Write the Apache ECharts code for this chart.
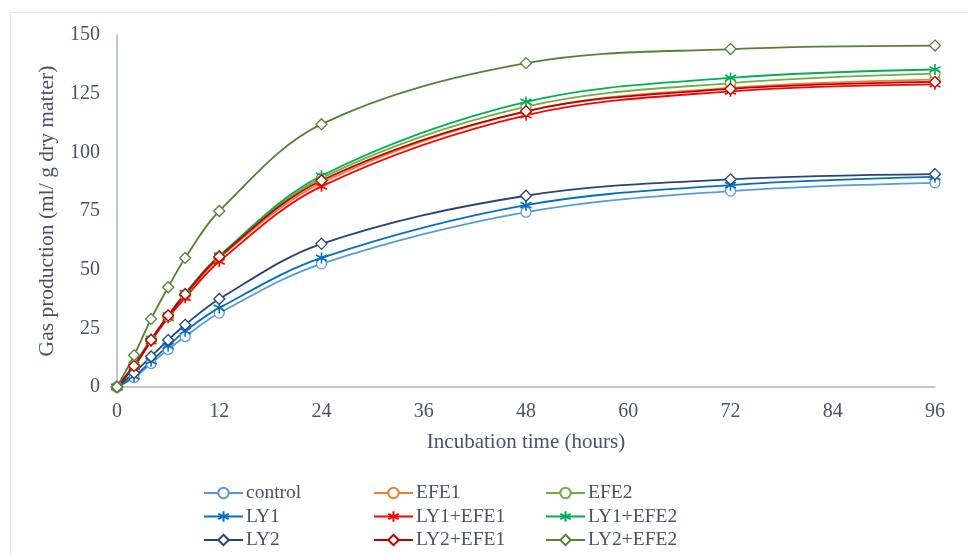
<!DOCTYPE html>
<html>
<head>
<meta charset="utf-8">
<script src="https://cdn.jsdelivr.net/npm/echarts@6/dist/echarts.min.js"></script>
<style>
html,body{margin:0;padding:0;background:#fff;}
#chart{width:968px;height:555px;}
</style>
</head>
<body>
<div id="chart"></div>
<script>
const hours = [0, 2, 4, 6, 8, 12, 24, 48, 72, 96];
const control = [0, 4, 10, 16, 21.5, 31.5, 52.5, 74.5, 83.5, 87];
const EFE1 = [0, 9, 20, 30, 39, 55, 87, 117.5, 127.5, 131];
const EFE2 = [0, 9, 20, 30, 39.5, 55.5, 89, 119.5, 129.5, 133.5];
const LY1 = [0, 4.5, 11, 17.5, 23.8, 33.7, 55, 77.5, 86, 89.5];
const LY1_EFE1 = [0, 8.5, 19.5, 29.5, 38, 53.5, 85.5, 115.8, 126, 129];
const LY1_EFE2 = [0, 9.5, 20.5, 30.5, 40, 56, 90, 121.5, 131.7, 135.3];
const LY2 = [0, 6, 13, 20, 26.5, 37.5, 61, 81.5, 88.5, 90.7];
const LY2_EFE1 = [0, 9, 20, 30.5, 39.5, 55.5, 88, 117.5, 127, 130];
const LY2_EFE2 = [0, 13.5, 29, 42.5, 55, 75, 112, 138, 144, 145.5];

const xTicks = [0, 12, 24, 36, 48, 60, 72, 84, 96];
const yTicks = [0, 25, 50, 75, 100, 125, 150];

const STAR = 'path://M0,-5L0,5M-4.4,-2.6L4.4,2.6M-4.4,2.6L4.4,-2.6';
const FONT = '"Liberation Serif", "Times New Roman", serif';
const TXT = '#44546A';

const defs = [
  {name: 'control', data: control, color: '#5B9BD5', sym: 'circle'},
  {name: 'EFE1', data: EFE1, color: '#ED7D31', sym: 'circle'},
  {name: 'EFE2', data: EFE2, color: '#70AD47', sym: 'circle'},
  {name: 'LY1', data: LY1, color: '#0070C0', sym: 'star'},
  {name: 'LY1+EFE1', data: LY1_EFE1, color: '#FF0000', sym: 'star'},
  {name: 'LY1+EFE2', data: LY1_EFE2, color: '#00B050', sym: 'star'},
  {name: 'LY2', data: LY2, color: '#264478', sym: 'diamond'},
  {name: 'LY2+EFE1', data: LY2_EFE1, color: '#C00000', sym: 'diamond'},
  {name: 'LY2+EFE2', data: LY2_EFE2, color: '#548235', sym: 'diamond'}
];

const series = defs.map(d => {
  const isStar = d.sym === 'star';
  return {
    name: d.name,
    type: 'line',
    smooth: 0.35,
    data: hours.map((h, i) => [h, d.data[i]]),
    symbol: isStar ? STAR : d.sym,
    symbolSize: isStar ? 11 : (d.sym === 'diamond' ? 11 : 10),
    showAllSymbol: true,
    lineStyle: {color: d.color, width: 1.8},
    itemStyle: isStar
      ? {color: d.color, borderColor: d.color, borderWidth: 1.6}
      : {color: '#ffffff', borderColor: d.color, borderWidth: 1.3},
    emphasis: {disabled: true},
    animation: false
  };
});

function legendCol(names, left) {
  return {
    orient: 'vertical',
    left: left,
    top: 483,
    height: 72,
    padding: 0,
    itemGap: 3.5,
    itemWidth: 39,
    itemHeight: 13,
    data: names,
    selectedMode: false,
    textStyle: {fontFamily: FONT, fontSize: 19.5, color: TXT, lineHeight: 18, padding: [0, 0, 0, -2]}
  };
}

const chart = echarts.init(document.getElementById('chart'));
chart.setOption({
  backgroundColor: '#fff',
  animation: false,
  graphic: [{
    type: 'rect',
    shape: {x: 10.5, y: 12.5, width: 1000, height: 700},
    style: {fill: 'none', stroke: '#e3e6eb', lineWidth: 1},
    silent: true,
    z: -10
  }],
  grid: {left: 117, right: 33, top: 35, bottom: 168, containLabel: false},
  legend: [
    legendCol(['control', 'LY1', 'LY2'], 203),
    legendCol(['EFE1', 'LY1+EFE1', 'LY2+EFE1'], 373),
    legendCol(['EFE2', 'LY1+EFE2', 'LY2+EFE2'], 545)
  ],
  xAxis: {
    type: 'value',
    min: xTicks[0],
    max: xTicks[xTicks.length - 1],
    interval: 12,
    name: 'Incubation time (hours)',
    nameLocation: 'middle',
    nameGap: 45,
    nameTextStyle: {fontFamily: FONT, fontSize: 21, color: TXT},
    axisLine: {show: true, lineStyle: {color: '#ABB6C7', width: 1.5}},
    axisTick: {show: false},
    splitLine: {show: false},
    axisLabel: {fontFamily: FONT, fontSize: 20, color: TXT, margin: 15}
  },
  yAxis: {
    type: 'value',
    min: yTicks[0],
    max: yTicks[yTicks.length - 1],
    interval: 25,
    name: 'Gas production (ml/ g dry matter)',
    nameLocation: 'middle',
    nameGap: 59,
    nameTextStyle: {fontFamily: FONT, fontSize: 21.5, color: TXT},
    axisLine: {show: true, lineStyle: {color: '#ABB6C7', width: 1.5}},
    axisTick: {show: false},
    splitLine: {show: false},
    axisLabel: {fontFamily: FONT, fontSize: 20, color: TXT, margin: 17}
  },
  series: series
});
</script>
</body>
</html>
